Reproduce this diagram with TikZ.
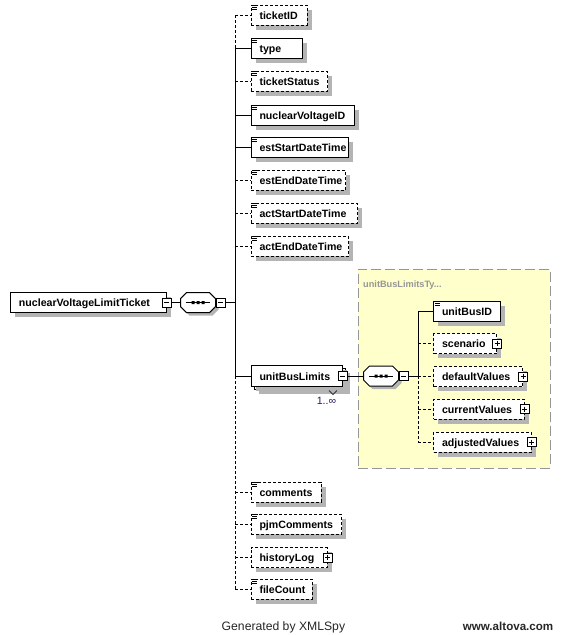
\documentclass[tikz,border=0pt]{standalone}
\usepackage{fontspec}
\setmainfont{Liberation Sans}
\usetikzlibrary{shadows}
\definecolor{shadowgray}{RGB}{180,180,180}
\definecolor{typeyellow}{RGB}{255,255,204}
\definecolor{typeborder}{RGB}{150,150,150}
\definecolor{typetitle}{RGB}{150,150,150}
\definecolor{multcol}{RGB}{40,20,100}
\newcommand\lblfont{\fontsize{10.6}{12}\selectfont\bfseries}
\newcommand\lb[2]{\makebox[\dimexpr#1pt-17pt\relax][l]{#2}}
\newcommand\docicon[1]{%
  \draw[line width=0.9pt] ([shift={(1.5,0.8)}]#1.north west) -- ++(6,0)
     ([shift={(1.5,2.8)}]#1.north west) -- ++(5,0)
     ([shift={(1.5,4.8)}]#1.north west) -- ++(5,0);}
\newcommand\seqicon[3]{%
  \node[minimum width=35pt, minimum height=20pt, inner sep=0pt] (#1) at (#2,#3) {};
  \begin{scope}[shift={(#2,#3)}]
    \fill[shadowgray] (-8.5,-7) -- (14.5,-7) -- (20.5,-1) -- (20.5,7) -- (14.5,13) -- (-8.5,13) -- (-14.5,7) -- (-14.5,-1) -- cycle;
    \draw[line width=1pt, fill=white] (-11.5,-10) -- (11.5,-10) -- (17.5,-4) -- (17.5,4) -- (11.5,10) -- (-11.5,10) -- (-17.5,4) -- (-17.5,-4) -- cycle;
    \draw[line width=1pt] (-12,0) -- (12,0);
    \fill (-6.5,-1.5) rectangle (-3.5,1.5) (-1.5,-1.5) rectangle (1.5,1.5) (3.5,-1.5) rectangle (6.5,1.5);
  \end{scope}}
\begin{document}
\begin{tikzpicture}[x=1pt,y=-1pt,
  el/.style={rectangle, draw=black, line width=1pt, fill=white, minimum height=20pt,
    inner xsep=8.5pt, inner ysep=0pt, text height=8.5pt, text depth=0pt, anchor=west,
    font=\lblfont, drop shadow={shadow xshift=4.5pt, shadow yshift=-4.5pt, fill=shadowgray, opacity=1}},
  opt/.style={el, dash pattern=on 3pt off 2pt},
  conn/.style={line width=1pt},
  optconn/.style={line width=1pt, dash pattern=on 3pt off 2pt},
  pmbox/.style={rectangle, draw=black, line width=0.8pt, fill=white, minimum size=9pt, inner sep=0pt},
  minusbox/.style={pmbox, path picture={\draw[line width=0.8pt] ([xshift=2pt]path picture bounding box.west) -- ([xshift=-2pt]path picture bounding box.east);}},
  plusbox/.style={pmbox, path picture={\draw[line width=0.8pt] ([xshift=2pt]path picture bounding box.west) -- ([xshift=-2pt]path picture bounding box.east) ([yshift=-2pt]path picture bounding box.north) -- ([yshift=2pt]path picture bounding box.south);}},
]
\path[use as bounding box] (0,0) rectangle (560,635);

% complex type container
\node[draw=typeborder, fill=typeyellow, line width=1pt, dash pattern=on 10pt off 4pt,
  minimum width=192pt, minimum height=199pt, anchor=north west, inner sep=0pt] (ubltype) at (357.5,268.5) {};
\node[anchor=base west, inner sep=0pt, text=typetitle, font=\fontsize{9.2}{12}\selectfont\bfseries] (ubltitle) at (363,287.3) {unitBusLimitsTy...};

% root
\node[el] (root) at (10,302.7) {\lb{155.5}{nuclearVoltageLimitTicket}};
\node[minusbox] (rootpm) at (root.east) {};
\seqicon{seq1}{198}{302.7}
\node[minusbox] (seq1pm) at ([xshift=5pt]seq1.east) {};
\coordinate (spine) at (235,0);

% children
\node[opt] (ticketID) at (250.5,15) {\lb{56.2}{ticketID}}; \docicon{ticketID}
\node[el] (type) at (250.5,48.3) {\lb{51.2}{type}}; \docicon{type}
\node[opt] (ticketStatus) at (250.5,81) {\lb{76.5}{ticketStatus}}; \docicon{ticketStatus}
\node[el] (nuclearVoltageID) at (250.5,115) {\lb{103.5}{nuclearVoltageID}}; \docicon{nuclearVoltageID}
\node[el] (estStartDateTime) at (250.5,147) {\lb{97.5}{estStartDateTime}}; \docicon{estStartDateTime}
\node[opt] (estEndDateTime) at (250.5,180) {\lb{94.5}{estEndDateTime}}; \docicon{estEndDateTime}
\node[opt] (actStartDateTime) at (250.5,213) {\lb{106.5}{actStartDateTime}}; \docicon{actStartDateTime}
\node[opt] (actEndDateTime) at (250.5,246) {\lb{97.5}{actEndDateTime}}; \docicon{actEndDateTime}

% unitBusLimits (multiple)
\node[el, minimum height=21pt] (ublback) at (253.5,379) {\lb{91}{}};
\node[el, minimum height=21pt, drop shadow={opacity=0}] (ubl) at (250.5,376) {\lb{91}{unitBusLimits}};
\node[minusbox] (ublpm) at (ubl.east) {};
\draw[line width=0.8pt, black!80] ([shift={(-16.5,0.5)}]ublback.south east) -- ++(4,4) -- ++(4,-4);
\node[anchor=base, inner sep=0pt, font=\fontsize{10.6}{12}\selectfont, text=multcol] (ublmult) at (326.5,404) {1..∞};

\seqicon{seq2}{381}{376}
\node[minusbox] (seq2pm) at ([xshift=5pt]seq2.east) {};
\coordinate (ispine) at (418,0);

% inner children
\node[el] (unitBusID) at (433,311) {\lb{67}{unitBusID}}; \docicon{unitBusID}
\node[opt] (scenario) at (433,343.5) {\lb{63}{scenario\hspace{12pt}}};
\node[plusbox] (scenariopm) at (scenario.east) {};
\node[opt] (defaultValues) at (433,376.5) {\lb{89}{defaultValues}};
\node[plusbox] (defaultValuespm) at (defaultValues.east) {};
\node[opt] (currentValues) at (433,409) {\lb{90.5}{currentValues}};
\node[plusbox] (currentValuespm) at (currentValues.east) {};
\node[opt] (adjustedValues) at (433,442) {\lb{97.5}{adjustedValues}};
\node[plusbox] (adjustedValuespm) at (adjustedValues.east) {};

% bottom children
\node[opt] (comments) at (250.5,492) {\lb{70.2}{comments}}; \docicon{comments}
\node[opt] (pjmComments) at (250.5,524) {\lb{90.5}{pjmComments}}; \docicon{pjmComments}
\node[opt] (historyLog) at (250.5,557.5) {\lb{76.2}{historyLog}};
\node[plusbox] (historyLogpm) at (historyLog.east) {};
\node[opt] (fileCount) at (250.5,589) {\lb{61.2}{fileCount}}; \docicon{fileCount}

% connectors
\draw[conn] (rootpm.east) -- (seq1.west);
\draw[conn] (seq1pm.east) -- (spine |- seq1pm.east);
\draw[optconn] (spine |- ticketID.west) -- (spine |- type.west);
\draw[conn] (spine |- type.west) -- (spine |- ubl.west);
\draw[optconn] (spine |- ubl.west) -- (spine |- fileCount.west);
\foreach \n in {ticketID,ticketStatus,estEndDateTime,actStartDateTime,actEndDateTime,comments,pjmComments,historyLog,fileCount}
  \draw[optconn] (spine |- \n.west) -- (\n.west);
\foreach \n in {type,nuclearVoltageID,estStartDateTime,ubl}
  \draw[conn] (spine |- \n.west) -- (\n.west);

\draw[conn] (ublpm.east) -- (seq2.west);
\draw[conn] (seq2pm.east) -- (ispine |- seq2pm.east);
\draw[conn] (ispine |- unitBusID.west) -- (ispine |- seq2pm.east);
\draw[optconn] (ispine |- seq2pm.east) -- (ispine |- adjustedValues.west);
\draw[conn] (ispine |- unitBusID.west) -- (unitBusID.west);
\foreach \n in {scenario,defaultValues,currentValues,adjustedValues}
  \draw[optconn] (ispine |- \n.west) -- (\n.west);

% footer
\node[anchor=base west, inner sep=0pt, text=black!85, font=\fontsize{12.2}{14}\selectfont] (gen) at (221.5,630.5) {Generated by XMLSpy};
\node[anchor=base east, inner sep=0pt, text=black!85, font=\fontsize{11.6}{14}\selectfont\bfseries] (altova) at (553.5,630.5) {www.altova.com};
\end{tikzpicture}
\end{document}
